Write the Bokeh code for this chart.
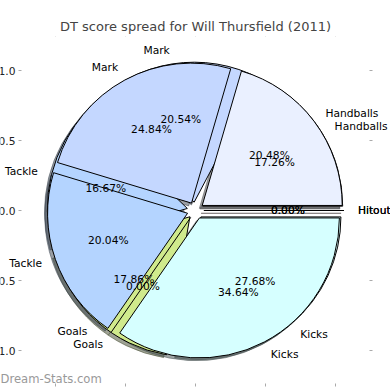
import numpy as np
from bokeh.plotting import figure
from bokeh.models import Range1d, LinearAxis, FixedTicker, ColumnDataSource, Label, LabelSet
from bokeh.embed import file_html
from bokeh.resources import INLINE
from bokeh.core.properties import value

# ---- data ----
categories = ["Handballs", "Mark", "Tackle", "Goals", "Kicks", "Hitout"]
colors = ["#EAF0FF", "#C4D7FF", "#B4D4FF", "#D0EA8C", "#D6FFFF", "#FFE4E4"]
series_under = [17.26, 20.54, 16.67, 17.86, 27.68, 0.00]   # drawn first
series_over = [20.48, 24.84, 20.04, 0.00, 34.64, 0.00]     # drawn on top
tick_values = [-1.0, -0.5, 0.0, 0.5, 1.0]
tick_labels = ["1.0", "0.5", "0.0", "0.5", "1.0"]  # minus signs cropped in the reference
title_text = "DT score spread for Will Thursfield (2011)"
watermark = "Dream-Stats.com"

EXPLODE = 0.06
RADIUS = 1.0
SH = -0.02
FONT = "DejaVu Sans"
FS = "10.7px"

# layout (canvas px)
W, H = 390, 390
T = 36                      # title band above the frame
SCALE = 140.0
X0, Y0 = 195.0, 210.0       # canvas position of data (0, 0)
AX_L, AX_R, AX_T, AX_B = 21, 369, 36, 383   # matplotlib axes box edges (canvas px)

x_range = Range1d((0 - X0) / SCALE, (W - X0) / SCALE)
y_range = Range1d((Y0 - H) / SCALE, (Y0 - T) / SCALE)

p = figure(width=W, height=H, x_range=x_range, y_range=y_range,
           output_backend="svg", toolbar_location=None,
           x_axis_location=None, y_axis_location=None,
           min_border_left=0, min_border_right=0, min_border_top=T, min_border_bottom=0)
p.outline_line_color = None
p.grid.visible = False
p.background_fill_color = "white"
p.border_fill_color = "white"

p.title.text = title_text
p.title.text_font = FONT
p.title.text_font_size = "13px"
p.title.text_font_style = "normal"
p.title.align = "center"
p.title.standoff = 5


def make_axis(loc, labels):
    ax = LinearAxis(fixed_location=loc)
    ax.ticker = FixedTicker(ticks=tick_values)
    ax.axis_line_color = None
    ax.major_tick_line_color = "#AAAAAA"
    ax.major_tick_in = 0
    ax.major_tick_out = 3
    ax.minor_tick_line_color = None
    ax.major_label_text_font = FONT
    ax.major_label_text_font_size = FS
    ax.major_label_text_color = "#222222"
    ax.major_label_standoff = 3
    if labels:
        ax.major_label_overrides = {v: t for v, t in zip(tick_values, tick_labels)}
    else:
        ax.major_label_overrides = {v: "" for v in tick_values}
    return ax


p.add_layout(make_axis((AX_L - X0) / SCALE, True), "left")
p.add_layout(make_axis((AX_R - X0) / SCALE, False), "right")
p.add_layout(make_axis((Y0 - AX_T) / SCALE, False), "above")
p.add_layout(make_axis((Y0 - AX_B) / SCALE, False), "below")


def geometry(vals):
    v = np.asarray(vals, dtype=float)
    frac = v / v.sum()
    ends = 2 * np.pi * np.cumsum(frac)
    starts = ends - 2 * np.pi * frac
    mids = (starts + ends) / 2
    cx = EXPLODE * np.cos(mids)
    cy = EXPLODE * np.sin(mids)
    return frac, starts, ends, mids, cx, cy


def darken(hexcol):
    r = int(hexcol[1:3], 16); g = int(hexcol[3:5], 16); b = int(hexcol[5:7], 16)
    return "#%02x%02x%02x" % (int(r * 0.3), int(g * 0.3), int(b * 0.3))


geoms = [geometry(series_under), geometry(series_over)]

# shadows (both pies, below all wedges)
for frac, starts, ends, mids, cx, cy in geoms:
    nz = frac > 0
    src = ColumnDataSource(dict(x=cx[nz] + SH, y=cy[nz] + SH, s=starts[nz], e=ends[nz],
                                c=[darken(c) for c, k in zip(colors, nz) if k]))
    p.wedge(x="x", y="y", radius=RADIUS, start_angle="s", end_angle="e",
            fill_color="c", fill_alpha=0.5, line_color="c", line_alpha=0.5, source=src)
    z = ~nz
    if z.any():
        p.segment(x0=cx[z] + SH, y0=cy[z] + SH,
                  x1=cx[z] + SH + RADIUS * np.cos(ends[z]), y1=cy[z] + SH + RADIUS * np.sin(ends[z]),
                  line_color=[darken(c) for c, k in zip(colors, z) if k], line_alpha=0.5, line_width=1)

# wedges
for frac, starts, ends, mids, cx, cy in geoms:
    nz = frac > 0
    src = ColumnDataSource(dict(x=cx[nz], y=cy[nz], s=starts[nz], e=ends[nz],
                                c=[c for c, k in zip(colors, nz) if k]))
    p.wedge(x="x", y="y", radius=RADIUS, start_angle="s", end_angle="e",
            fill_color="c", line_color="black", line_width=1, source=src)
    z = ~nz
    if z.any():
        p.segment(x0=cx[z], y0=cy[z],
                  x1=cx[z] + RADIUS * np.cos(ends[z]), y1=cy[z] + RADIUS * np.sin(ends[z]),
                  line_color="black", line_width=1)

# category labels and percentages
for frac, starts, ends, mids, cx, cy in geoms:
    lx = cx + 1.1 * RADIUS * np.cos(mids)
    ly = cy + 1.1 * RADIUS * np.sin(mids)
    for side in ("left", "right"):
        m = (lx > 0) if side == "left" else (lx <= 0)
        src = ColumnDataSource(dict(x=lx[m], y=ly[m], t=[c for c, k in zip(categories, m) if k]))
        p.add_layout(LabelSet(x="x", y="y", text="t", source=src, text_align=side,
                              text_baseline="middle", text_font=value(FONT),
                              text_font_size=value(FS), text_color="black"))
    px = cx + 0.6 * RADIUS * np.cos(mids)
    py = cy + 0.6 * RADIUS * np.sin(mids)
    pct = ["%1.2f%%" % (100 * f) for f in frac]
    src2 = ColumnDataSource(dict(x=px, y=py, t=pct))
    p.add_layout(LabelSet(x="x", y="y", text="t", source=src2, text_align="center",
                          text_baseline="middle", text_font=value(FONT),
                          text_font_size=value(FS), text_color="black"))

wm = Label(x=(0 - X0) / SCALE, y=(Y0 - 378) / SCALE, text=watermark,
           text_font=FONT, text_font_size="11.6px", text_color="#999999",
           text_baseline="middle", text_align="left")
p.add_layout(wm)

open("out.html", "w").write(file_html(p, INLINE))
